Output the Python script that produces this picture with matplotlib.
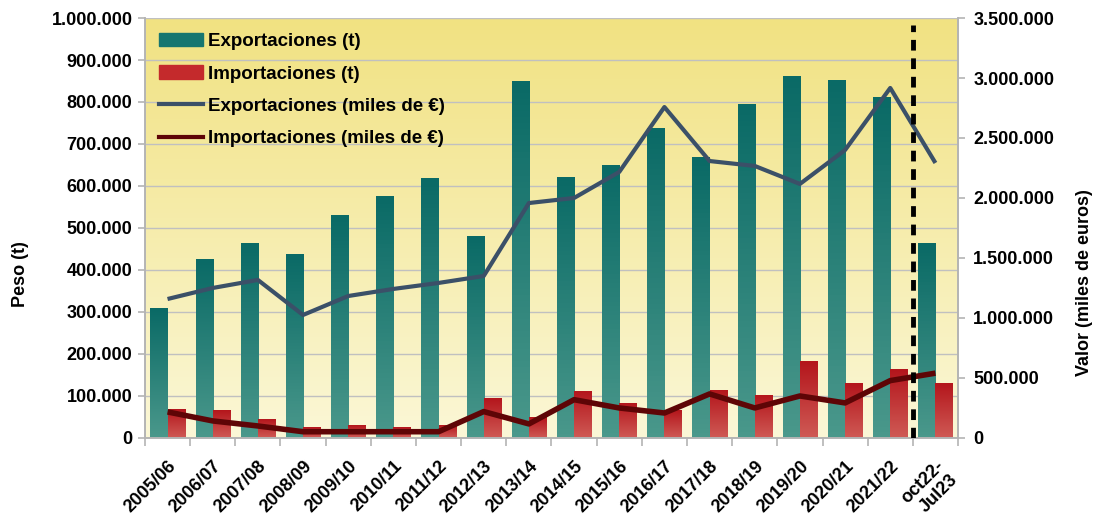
import numpy as np
import matplotlib.pyplot as plt
from matplotlib.colors import LinearSegmentedColormap
from matplotlib.patches import Patch
from matplotlib.lines import Line2D
from matplotlib.ticker import FuncFormatter, FixedLocator

plt.rcParams['font.family'] = ['Liberation Sans', 'DejaVu Sans']
plt.rcParams['font.weight'] = 'bold'

# datos
campanas = ['2005/06', '2006/07', '2007/08', '2008/09', '2009/10', '2010/11', '2011/12',
            '2012/13', '2013/14', '2014/15', '2015/16', '2016/17', '2017/18', '2018/19',
            '2019/20', '2020/21', '2021/22', 'oct22-\nJul23']
export_t = [308000, 426000, 464000, 438000, 531000, 574000, 617000, 479000, 848000, 621000,
            650000, 736000, 669000, 793000, 860000, 852000, 810000, 462000]
import_t = [69000, 66000, 43000, 24000, 29000, 24000, 29000, 93000, 48000, 110000,
            81000, 65000, 114000, 102000, 183000, 129000, 162000, 129000]
export_eur = [1158000, 1250000, 1317000, 1025000, 1183000, 1242000, 1292000, 1350000, 1958000,
              2000000, 2217000, 2758000, 2308000, 2267000, 2117000, 2400000, 2917000, 2292000]
import_eur = [217000, 142000, 100000, 52000, 52000, 52000, 52000, 220000, 117000, 319000,
              250000, 208000, 367000, 250000, 350000, 292000, 478000, 540000]

fig = plt.figure(figsize=(10.94, 5.22), dpi=100)
ax = fig.add_axes([0.1325, 0.161, 0.7432, 0.8045])
ax2 = ax.twinx()

x = np.arange(len(campanas))
w = 0.38

# fondo degradado
bg = LinearSegmentedColormap.from_list('bg', ['#fbf7d6', '#f1e282'])
ax.imshow(np.linspace(0, 1, 200).reshape(-1, 1), extent=[0, 1, 0, 1], transform=ax.transAxes,
          cmap=bg, origin='lower', aspect='auto', zorder=0)

cm_exp = LinearSegmentedColormap.from_list('exp', ['#4a988b', '#0a6a66'])
cm_imp = LinearSegmentedColormap.from_list('imp', ['#cf5a55', '#b4161c'])


def barra(xc, h, cmap):
    g = np.linspace(0, 1, 60).reshape(-1, 1)
    ax.imshow(g, extent=[xc - w / 2, xc + w / 2, 0, h], origin='lower', cmap=cmap,
              aspect='auto', zorder=2)


for i in range(len(campanas)):
    barra(x[i] - w / 2, export_t[i], cm_exp)
    barra(x[i] + w / 2, import_t[i], cm_imp)

ax.set_xlim(-0.5, len(campanas) - 0.5)
ax.set_ylim(0, 1000000)
ax.set_yticks(np.arange(0, 1000001, 100000))
ax.yaxis.grid(True, color='#c0c0c0', lw=1)
ax.set_axisbelow(True)

fmt = FuncFormatter(lambda v, p: f'{int(v):,}'.replace(',', '.'))
ax.yaxis.set_major_formatter(fmt)
ax2.yaxis.set_major_formatter(fmt)

ax2.plot(x, export_eur, color='#3b5068', lw=3, zorder=3, solid_capstyle='butt')
ax2.plot(x, import_eur, color='#5e0506', lw=4, zorder=3, solid_capstyle='butt')
ax2.plot([16.5, 16.5], [0, 3440000], color='black', lw=3.5, ls=(0, (2.2, 1.6)), zorder=4)
ax2.set_ylim(0, 3500000)
ax2.set_yticks(np.arange(0, 3500001, 500000))

ax.set_xticks(x)
ax.set_xticklabels(campanas, rotation=45, ha='right', va='top', rotation_mode='anchor',
                   fontsize=13, fontweight='bold')
ax.xaxis.set_minor_locator(FixedLocator(np.arange(-0.5, len(campanas), 1)))
ax.tick_params(axis='x', which='major', length=0, pad=14)
ax.tick_params(axis='x', which='minor', length=6, color='#b4b4b4', width=1.2)
ax.tick_params(axis='y', length=5, color='#b4b4b4', width=1.2, labelsize=13, pad=4)
ax2.tick_params(axis='y', length=5, color='#b4b4b4', width=1.2, labelsize=13, pad=6)
for t in ax.get_yticklabels() + ax2.get_yticklabels():
    t.set_fontweight('bold')

for a in (ax, ax2):
    a.spines['top'].set_visible(False)
    for s in ('left', 'right', 'bottom'):
        a.spines[s].set_color('#b4b4b4')
        a.spines[s].set_linewidth(1.2)

ax.set_ylabel('Peso (t)', fontsize=13, fontweight='bold', va='center')
ax.yaxis.set_label_coords(-0.1525, 0.39)
ax2.set_ylabel('Valor (miles de euros)', fontsize=13, fontweight='bold', va='center')
ax2.yaxis.set_label_coords(1.156, 0.37)

handles = [Patch(color='#177670'), Patch(color='#c42a2c'),
           Line2D([], [], color='#3b5068', lw=3), Line2D([], [], color='#5e0506', lw=3)]
labels = ['Exportaciones (t)', 'Importaciones (t)', 'Exportaciones (miles de €)',
          'Importaciones (miles de €)']
ax2.legend(handles, labels, loc='upper left', bbox_to_anchor=(0.017, 0.965), frameon=False,
           borderaxespad=0, borderpad=0, prop={'weight': 'bold', 'size': 13.5},
           handlelength=2.35, handletextpad=0.25, labelspacing=0.8, handleheight=0.75)

fig.savefig('out.png', dpi=100)
